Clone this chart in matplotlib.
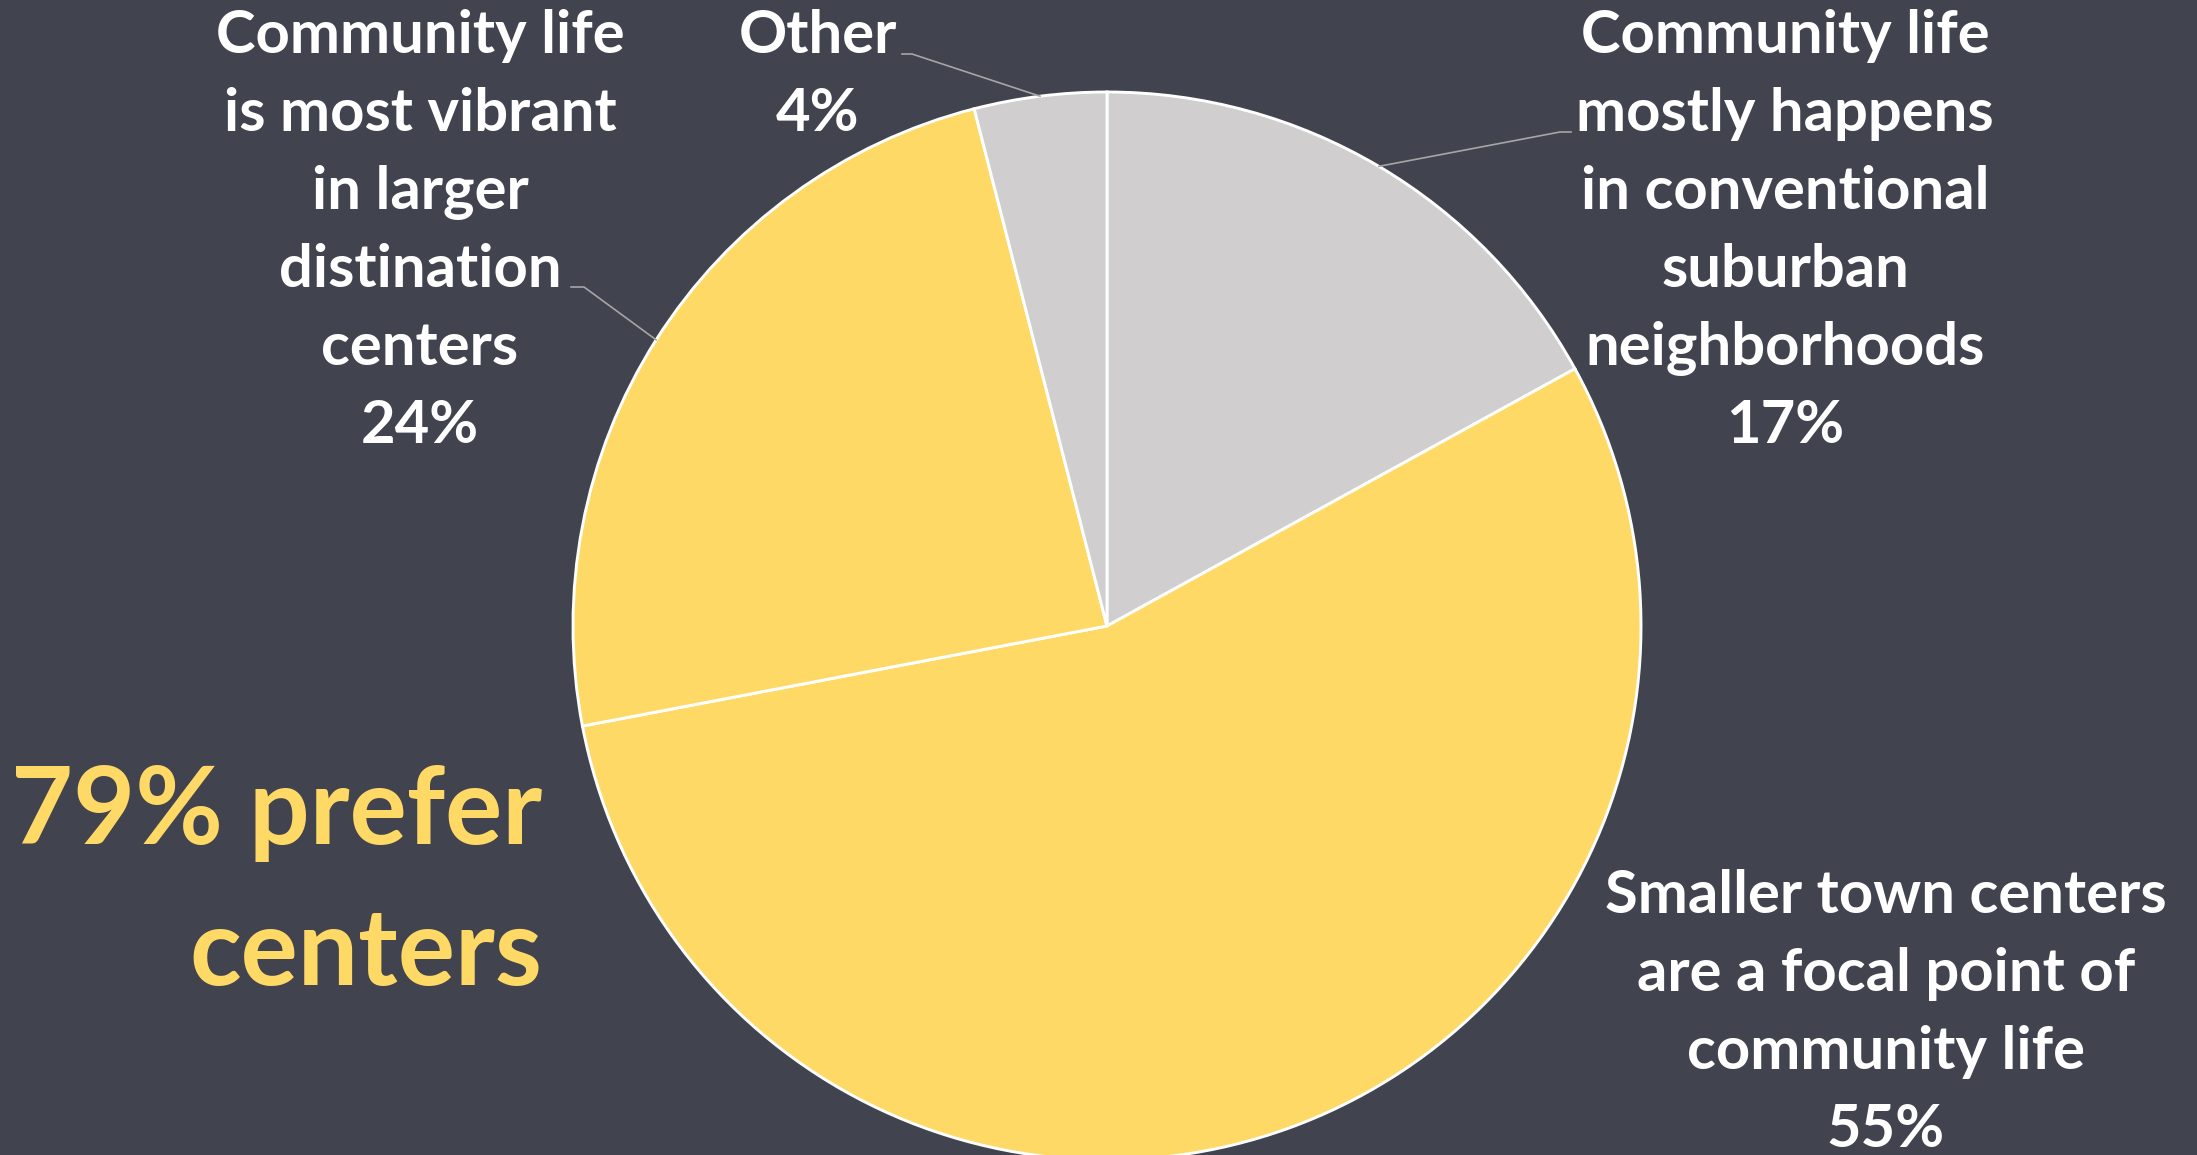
import matplotlib.pyplot as plt
from matplotlib.lines import Line2D
import numpy as np

# figure size in pixels (dpi 100)
W, H = 2197, 1155
BG = '#41434F'
YELLOW = '#FFD966'
GRAY = '#D0CECE'
FONT = 'Lato'

# data, clockwise from 12 o'clock
labels = [
    ['Community life', 'mostly happens', 'in conventional', 'suburban', 'neighborhoods'],
    ['Smaller town centers', 'are a focal point of', 'community life'],
    ['Community life', 'is most vibrant', 'in larger', 'distination', 'centers'],
    ['Other'],
]
values = [17, 55, 24, 4]
colors = [GRAY, YELLOW, YELLOW, GRAY]
headline = ['79% prefer', 'centers']

# label placement: (center x, first baseline y) in pixels
label_pos = [(1785, 53), (1886, 913), (420, 53), (818, 53)]
# leader line start points near the labels (pixels), None = no leader
leader_start = [[(1571, 132), (1560, 132)], None,
                [(571, 287), (584, 287)], [(902, 54), (912, 54)]]
LINE_STEP = 78


def fig_xy(x, y):
    return x / W, 1 - y / H


fig = plt.figure(figsize=(W / 100, H / 100), dpi=100)
fig.patch.set_facecolor(BG)

cx, cy, r = 1107, 626, 534
ax = fig.add_axes([(cx - r) / W, 1 - (cy + r) / H, 2 * r / W, 2 * r / H])
wedges, _ = ax.pie(values, colors=colors, startangle=90, counterclock=False,
                   wedgeprops=dict(edgecolor='white', linewidth=2.1))
ax.set_xlim(-1, 1)
ax.set_ylim(-1, 1)
ax.set_aspect('equal')
ax.axis('off')
for w in wedges:
    w.set_clip_on(False)

# slice labels
for i, lines in enumerate(labels):
    x, y0 = label_pos[i]
    for j, line in enumerate(lines + [f'{values[i]}%']):
        fig.text(*fig_xy(x, y0 + j * LINE_STEP), line, ha='center', va='baseline',
                 color='white', fontsize=43, fontweight='bold', family=FONT)

# leader lines
for i, pts in enumerate(leader_start):
    if pts is None:
        continue
    w = wedges[i]
    mid = np.deg2rad((w.theta1 + w.theta2) / 2)
    ex, ey = ax.transData.transform((np.cos(mid), np.sin(mid)))
    xs = [p[0] / W for p in pts] + [ex / W]
    ys = [1 - p[1] / H for p in pts] + [ey / H]
    fig.add_artist(Line2D(xs, ys, color='#A6A6A6', linewidth=1.2))

# headline
for j, line in enumerate(headline):
    fig.text(*fig_xy(542, 844 + j * 141), line, ha='right', va='baseline',
             color=YELLOW, fontsize=77, fontweight='bold', family=FONT)

fig.savefig('out.png', dpi=100, facecolor=BG)
